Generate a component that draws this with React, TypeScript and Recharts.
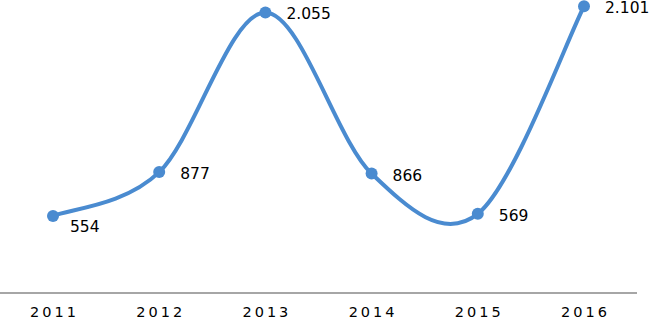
import React from "react";
import { LineChart, Line, XAxis, YAxis } from "recharts";

const years = ["2011", "2012", "2013", "2014", "2015", "2016"];
const values = [554, 877, 2055, 866, 569, 2101];
const valueLabels = ["554", "877", "2.055", "866", "569", "2.101"];

const data = years.map((year, i) => ({ year, value: values[i], label: valueLabels[i] }));

// Excel-like smooth curve (uniform Catmull-Rom / cardinal tension 0)
function smoothCurve(context: any) {
  let pts: [number, number][] = [];
  return {
    areaStart() {},
    areaEnd() {},
    lineStart() {
      pts = [];
    },
    lineEnd() {
      if (!pts.length) return;
      context.moveTo(pts[0][0], pts[0][1]);
      for (let i = 0; i < pts.length - 1; i++) {
        const p0 = pts[i - 1] || pts[i];
        const p1 = pts[i];
        const p2 = pts[i + 1];
        const p3 = pts[i + 2] || p2;
        const c1x = p1[0] + (p2[0] - p0[0]) / 6;
        const c1y = p1[1] + (p2[1] - p0[1]) / 6;
        const c2x = p2[0] - (p3[0] - p1[0]) / 6;
        const c2y = p2[1] - (p3[1] - p1[1]) / 6;
        context.bezierCurveTo(c1x, c1y, c2x, c2y, p2[0], p2[1]);
      }
    },
    point(x: number, y: number) {
      pts.push([+x, +y]);
    },
  };
}

const FONT = "'DejaVu Sans', Verdana, sans-serif";

const YearTick = (props: any) => {
  const { x, y, payload } = props;
  return (
    <text
      x={x + 1.5}
      y={y + 24}
      textAnchor="middle"
      fontFamily={FONT}
      fontSize={14.5}
      letterSpacing={3}
      fill="#000"
    >
      {payload.value}
    </text>
  );
};

const ValueLabel = (props: any) => {
  const { x, y, index } = props;
  const first = index === 0;
  return (
    <text
      x={x + (first ? 17 : 21)}
      y={y + (first ? 16 : 7)}
      textAnchor="start"
      fontFamily={FONT}
      fontSize={15.5}
      fill="#000"
    >
      {valueLabels[index]}
    </text>
  );
};

export default function App() {
  return (
    <div style={{ position: "absolute", left: 0, top: 0, width: 650, height: 319, background: "#fff" }}>
      <LineChart
        width={650}
        height={319}
        data={data}
        margin={{ top: 5, right: 13, bottom: 0, left: 0 }}
      >
        <XAxis
          dataKey="year"
          height={26}
          padding={{ left: 53, right: 53 }}
          tickLine={false}
          tickSize={0}
          tickMargin={0}
          axisLine={{ stroke: "#a6a6a6", strokeWidth: 2 }}
          tick={<YearTick />}
          interval={0}
        />
        <YAxis hide domain={[-15, 2110]} />
        <Line
          dataKey="value"
          type={smoothCurve as any}
          stroke="#4a8bd0"
          strokeWidth={4}
          dot={{ r: 6, fill: "#4a8bd0", stroke: "#4a8bd0", strokeWidth: 0 }}
          activeDot={false}
          isAnimationActive={false}
          label={<ValueLabel />}
        />
      </LineChart>
    </div>
  );
}
